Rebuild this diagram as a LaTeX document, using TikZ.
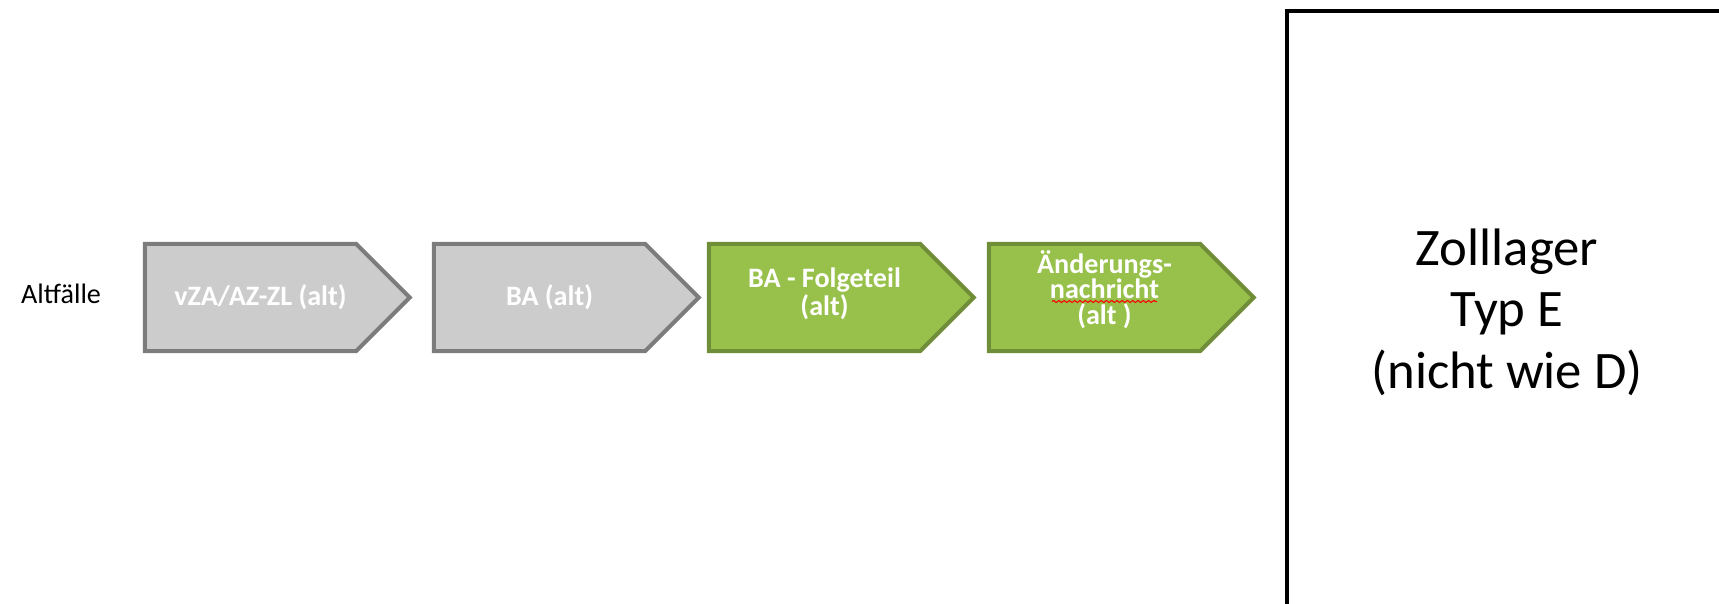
\documentclass[tikz,border=0pt]{standalone}
\usepackage{fontspec}
\setmainfont{Carlito}
\usetikzlibrary{shapes,positioning,calc,decorations.pathmorphing}
\definecolor{pfeilgrau}{RGB}{204,204,204}
\definecolor{randgrau}{RGB}{124,124,124}
\definecolor{pfeilgruen}{RGB}{152,193,76}
\definecolor{randgruen}{RGB}{112,142,56}

\begin{document}
\begin{tikzpicture}[
		schritt/.style={shape=signal, signal to=east, signal pointer angle=90,
			minimum width=5.3cm, minimum height=2.14cm, line width=0.08cm, inner sep=0pt},
		alt/.style={schritt, draw=randgrau, fill=pfeilgrau},
		neu/.style={schritt, draw=randgruen, fill=pfeilgruen},
		beschriftung/.style={text=white, align=center, xshift=0.2cm,
			font=\fontsize{16}{16}\selectfont\bfseries}]
		\useasboundingbox (0,0) rectangle (34.38,12.06);
		\clip (0,0) rectangle (34.38,12.06);

		\node[anchor=base west, font=\fontsize{16}{16}\selectfont] (altfaelle) at (0.3,5.98) {Altfälle};

		\node[alt, label={[beschriftung]center:{vZA/AZ-ZL (alt)}}] (vza) at (5.01,6.11) {};
		\node[alt, label={[beschriftung]center:{BA (alt)}}] (ba) at (10.79,6.11) {};
		\node[neu, label={[beschriftung, yshift=0.08cm]center:{BA - Folgeteil\\(alt)}}] (folge) at (16.29,6.11) {};
		\node[neu, label={[beschriftung, name=aenderungtext, yshift=0.16cm,
			font=\fontsize{16}{14.5}\selectfont\bfseries]center:{Änderungs-\\nachricht\\(alt )}}] (aenderung) at (21.89,6.11) {};
		% Rechtschreibwelle
		\draw[red, line width=0.6pt, decorate, decoration={snake, amplitude=0.6pt, segment length=3pt}]
			($(aenderungtext.center)+(-1.05,-0.24)$) -- ($(aenderungtext.center)+(1.05,-0.24)$);

		\node[draw, line width=0.08cm, minimum width=8.8cm, minimum height=12.04cm,
			align=center, font=\fontsize{30}{35}\selectfont] (zolllager) at (30.14,5.82)
			{Zolllager\\Typ E\\(nicht wie D)};
	\end{tikzpicture}
\end{document}
